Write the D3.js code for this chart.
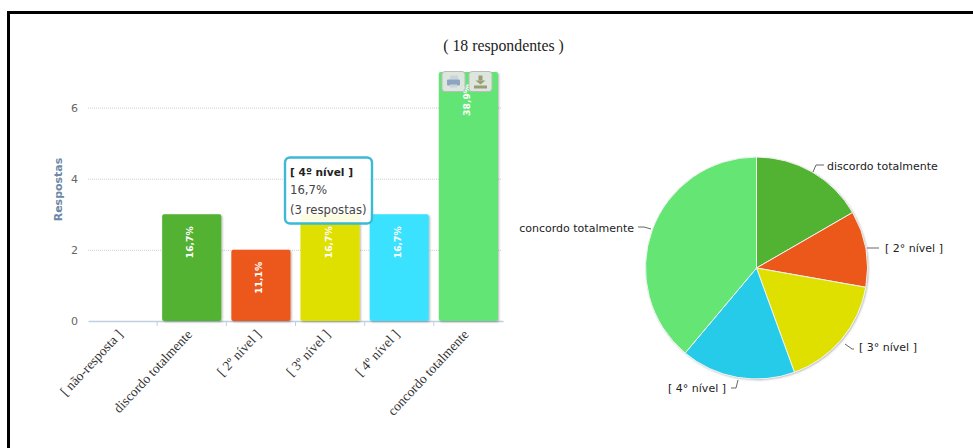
<!DOCTYPE html>
<html>
<head>
<meta charset="utf-8">
<script src="https://cdn.jsdelivr.net/npm/d3@7/dist/d3.min.js"></script>
<style>
html,body{margin:0;padding:0;background:#fff;overflow:hidden}
svg{display:block}
</style>
</head>
<body>
<svg id="chart" width="973" height="448"></svg>
<script>
const categories = ["[ não-resposta ]","discordo totalmente","[ 2º nível ]","[ 3º nível ]","[ 4º nível ]","concordo totalmente"];
const counts = [0,3,2,3,3,7];
const percentLabels = ["","16,7%","11,1%","16,7%","16,7%","38,9%"];
const barColors = ["#cccccc","#52b232","#ec581a","#dfe000","#3be2ff","#64e574"];
const yTicks = [0,2,4,6];
const pieLabels = ["discordo totalmente","[ 2° nível ]","[ 3° nível ]","[ 4° nível ]","concordo totalmente"];
const pieCounts = [3,2,3,3,7];
const pieColors = ["#52b232","#ec581a","#dfe000","#25cbe8","#64e574"];
const sansFont = "'DejaVu Sans',sans-serif";
const serifFont = "'Liberation Serif',serif";

const svg = d3.select("#chart");
const defs = svg.append("defs");
const shadow = defs.append("filter").attr("id","soft").attr("x","-10%").attr("y","-10%").attr("width","125%").attr("height","125%");
shadow.append("feDropShadow").attr("dx",1).attr("dy",1).attr("stdDeviation",1).attr("flood-color","#000").attr("flood-opacity",0.3);

// Page frame
svg.append("rect").attr("x",8.5).attr("y",12.5).attr("width",1000).attr("height",500)
  .attr("fill","none").attr("stroke","#000").attr("stroke-width",3);

svg.append("text").attr("x",503.5).attr("y",51).attr("text-anchor","middle")
  .attr("font-family",serifFont).attr("font-size",15.8).attr("fill","#222").text("( 18 respondentes )");

// Bar chart
const x = d3.scaleBand().domain(categories).range([88,503]);
const y = d3.scaleLinear().domain([0,7]).range([321,72]);

const grid = svg.append("g");
grid.selectAll("line").data(yTicks.filter(d=>d>0)).join("line")
  .attr("x1",88).attr("x2",502).attr("y1",d=>y(d)+.5).attr("y2",d=>y(d)+.5)
  .attr("stroke","#cfcfcf").attr("stroke-dasharray","1 1");

const yAxis = svg.append("g").attr("transform","translate(87,0)")
  .call(d3.axisLeft(y).tickValues(yTicks).tickSize(0).tickPadding(9).tickFormat(d3.format("d")));
yAxis.select(".domain").remove();
yAxis.selectAll("text").attr("font-family",sansFont).attr("font-size",11).attr("fill","#666");

svg.append("text").attr("transform","translate(62,189.5) rotate(-90)").attr("text-anchor","middle")
  .attr("font-family",sansFont).attr("font-size",11).attr("font-weight",700).attr("fill","#6d87a6").text("Respostas");

const xAxis = svg.append("g").attr("transform","translate(0,321)")
  .call(d3.axisBottom(x).tickSize(0).tickFormat(""));
xAxis.select(".domain").attr("stroke","#c0d0e0").attr("stroke-width",1.5);
xAxis.selectAll(".tick").remove();
svg.append("g").selectAll("line").data(categories.slice(1)).join("line")
  .attr("x1",d=>x(d)).attr("x2",d=>x(d)).attr("y1",321).attr("y2",326).attr("stroke","#c0d0e0");

svg.append("g").selectAll("rect").data(categories).join("rect")
  .attr("x",d=>x(d)+5).attr("width",x.bandwidth()-10)
  .attr("y",(d,i)=>y(counts[i])).attr("height",(d,i)=>y(0)-y(counts[i]))
  .attr("rx",2).attr("fill",(d,i)=>barColors[i]).attr("filter","url(#soft)")
  .attr("display",(d,i)=>counts[i]>0?null:"none");

svg.append("g").selectAll("text").data(categories).join("text")
  .attr("transform",(d,i)=>`translate(${x(d)+x.bandwidth()/2+1.5},${y(counts[i])+12}) rotate(-90)`)
  .attr("text-anchor","end")
  .attr("font-family",sansFont).attr("font-size",9.2).attr("font-weight",700).attr("fill","#fff")
  .text((d,i)=>percentLabels[i]);

svg.append("g").selectAll("text").data(categories).join("text")
  .attr("transform",d=>`translate(${x(d)+x.bandwidth()/2+1},${335}) rotate(-47)`)
  .attr("text-anchor","end")
  .attr("font-family",serifFont).attr("font-size",13.6).attr("fill","#333")
  .text(d=>d);

// Export buttons over the tallest bar
const buttons = svg.append("g");
[[442,"#8ea4bf"],[469,"#9a9d73"]].forEach(([bx,col],k)=>{
  const b = buttons.append("g").attr("transform",`translate(${bx},71.5)`);
  b.append("rect").attr("width",23).attr("height",20).attr("rx",3).attr("fill","#e6e6e6").attr("fill-opacity",0.92).attr("stroke","#bbb");
  if(k===0){
    b.append("rect").attr("x",8).attr("y",4).attr("width",8).attr("height",4).attr("fill","#c9d3df");
    b.append("rect").attr("x",5).attr("y",8).attr("width",13).attr("height",6).attr("rx",1).attr("fill",col);
    b.append("rect").attr("x",8).attr("y",13).attr("width",7).attr("height",3).attr("fill","#c9d3df");
  } else {
    b.append("rect").attr("x",9.5).attr("y",4).attr("width",4).attr("height",5).attr("fill",col);
    b.append("path").attr("d","M6.5 9H16.5L11.5 13Z").attr("fill",col);
    b.append("rect").attr("x",5).attr("y",14).attr("width",13).attr("height",3).attr("fill",col);
  }
});

// Tooltip
const tip = svg.append("g").attr("transform","translate(285,157.5)");
tip.append("rect").attr("width",87).attr("height",66).attr("rx",5)
  .attr("fill","#fff").attr("fill-opacity",0.88).attr("stroke","#3cb9d3").attr("stroke-width",2.4);
const tipText = [["[ 4º nível ]",700,"#222",18,10.6],["16,7%",400,"#444",36,11.7],["(3 respostas)",400,"#444",56,11.7]];
tip.selectAll("text").data(tipText).join("text")
  .attr("x",5).attr("y",d=>d[3]).attr("font-family",sansFont).attr("font-size",d=>d[4])
  .attr("font-weight",d=>d[1]).attr("fill",d=>d[2]).text(d=>d[0]);

// Pie chart
const cx = 756.5, cy = 268, r = 111;
const pie = d3.pie().sort(null).value(d=>d);
const arc = d3.arc().innerRadius(0).outerRadius(r);
const arcs = pie(pieCounts);
const pieG = svg.append("g").attr("transform",`translate(${cx},${cy})`);
pieG.append("circle").attr("r",r).attr("fill","#fff").attr("filter","url(#soft)");
pieG.selectAll("path").data(arcs).join("path")
  .attr("d",arc).attr("fill",(d,i)=>pieColors[i]).attr("stroke","#f2f2f2").attr("stroke-width",1);

const leaders = [
  [[813,172],[816,165],[824,165]],
  [[867,248],[879,248]],
  [[845,344],[852,349],[854,349]],
  [[738,380],[736,388],[731,388]],
  [[651,229],[644,227],[638,227]]
];
const line = d3.line();
svg.append("g").selectAll("path").data(leaders).join("path")
  .attr("d",d=>line(d)).attr("fill","none").attr("stroke","#666").attr("stroke-width",1);

const labelPos = [[827,170,"start"],[885,252,"start"],[859,351,"start"],[726,392,"end"],[634,232,"end"]];
svg.append("g").selectAll("text").data(pieLabels).join("text")
  .attr("x",(d,i)=>labelPos[i][0]).attr("y",(d,i)=>labelPos[i][1]).attr("text-anchor",(d,i)=>labelPos[i][2])
  .attr("font-family",sansFont).attr("font-size",11).attr("fill","#222").text(d=>d);
</script>
</body>
</html>
